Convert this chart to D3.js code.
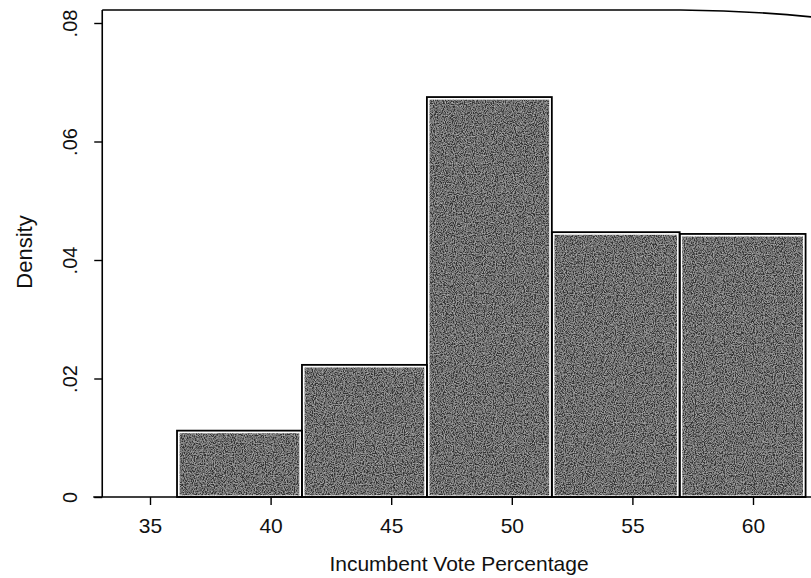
<!DOCTYPE html>
<html><head><meta charset="utf-8">
<script src="https://cdn.jsdelivr.net/npm/d3@7"></script>
<style>body{margin:0;background:#fff}svg{display:block}text{font-family:"Liberation Sans",Arial,sans-serif;fill:#111}</style>
</head><body><svg id="c" width="811" height="578"></svg>
<script>
const binStarts = [36.12, 41.30, 46.48, 51.66, 56.96];
const binEnds   = [41.30, 46.48, 51.66, 56.96, 62.18];
const densities = [0.0112, 0.0223, 0.0675, 0.0447, 0.0444];
const xTicks = [35, 40, 45, 50, 55, 60];
const yTicks = [0, 0.02, 0.04, 0.06, 0.08];
const yTickLabels = ["0", ".02", ".04", ".06", ".08"];

const svg = d3.select("#c");
const x = d3.scaleLinear().domain([35, 60]).range([150, 753]);
const y = d3.scaleLinear().domain([0, 0.08]).range([497, 23]);
const pLeft = x(33.02), pRight = 812, pTop = y(0.0822), pBottom = y(0);

const defs = svg.append("defs");
const f = defs.append("filter").attr("id","grain").attr("x",0).attr("y",0).attr("width",1).attr("height",1);
f.append("feTurbulence").attr("type","fractalNoise").attr("baseFrequency",0.9).attr("numOctaves",2).attr("seed",3).attr("result","n");
f.append("feColorMatrix").attr("in","n").attr("type","matrix")
 .attr("values","0 0 0 0 0.55  0 0 0 0 0.55  0 0 0 0 0.55  1.6 0 0 0 -0.55").attr("result","m");
f.append("feComposite").attr("in","m").attr("in2","SourceGraphic").attr("operator","in").attr("result","c");
f.append("feMerge").call(m=>{m.append("feMergeNode").attr("in","SourceGraphic");m.append("feMergeNode").attr("in","c");});

const bins = densities.map((d,i)=>({x0:binStarts[i], x1:binEnds[i], d}));
const g = svg.append("g");
g.selectAll("rect.fill").data(bins).join("rect").attr("class","fill")
 .attr("x",b=>x(b.x0)+2).attr("y",b=>y(b.d)+2)
 .attr("width",b=>x(b.x1)-x(b.x0)-4).attr("height",b=>y(0)-y(b.d)-2)
 .attr("fill","#333").attr("filter","url(#grain)");
g.selectAll("rect.inner").data(bins).join("rect").attr("class","inner")
 .attr("x",b=>x(b.x0)+2).attr("y",b=>y(b.d)+2)
 .attr("width",b=>x(b.x1)-x(b.x0)-4).attr("height",b=>y(0)-y(b.d)-3)
 .attr("fill","none").attr("stroke","#fff").attr("stroke-width",1.2);
g.selectAll("rect.outer").data(bins).join("rect").attr("class","outer")
 .attr("x",b=>x(b.x0)).attr("y",b=>y(b.d))
 .attr("width",b=>x(b.x1)-x(b.x0)).attr("height",b=>y(0)-y(b.d))
 .attr("fill","none").attr("stroke","#000").attr("stroke-width",1.8);

// frame: left axis line and top border
svg.append("line").attr("x1",pLeft).attr("x2",pLeft).attr("y1",pTop).attr("y2",pBottom).attr("stroke","#000").attr("stroke-width",1.6);
svg.append("path").attr("d",`M${pLeft},${pTop} L${x(57)},${pTop} Q${x(60)},${pTop+1} ${pRight},${pTop+7}`).attr("fill","none").attr("stroke","#000").attr("stroke-width",1.6);

// x axis
const xa = svg.append("g").attr("transform",`translate(0,${pBottom})`)
 .call(d3.axisBottom(x).tickValues(xTicks).tickSize(8).tickFormat(d3.format("d")));
xa.select(".domain").remove();
xa.append("line").attr("x1",pLeft-9).attr("x2",pRight).attr("stroke","#000").attr("stroke-width",1.6);
xa.selectAll(".tick line").attr("stroke","#000").attr("stroke-width",1.4);
xa.selectAll(".tick text").attr("font-size",21).attr("fill","#111").attr("y",36).attr("dy",0);

// y axis
const ya = svg.append("g").attr("transform",`translate(${pLeft},0)`)
 .call(d3.axisLeft(y).tickValues(yTicks).tickSize(8).tickFormat((d,i)=>yTickLabels[i]));
ya.select(".domain").remove();
ya.selectAll(".tick line").attr("stroke","#000").attr("stroke-width",1.4);
ya.selectAll(".tick text").attr("font-size",20).attr("fill","#111")
 .attr("transform",`translate(${77-pLeft},0) rotate(-90)`).attr("x",0).attr("dy",0).attr("text-anchor","middle");

svg.append("text").attr("x",459).attr("y",571).attr("text-anchor","middle").attr("font-size",21).text("Incumbent Vote Percentage");
svg.append("text").attr("transform",`translate(32,252) rotate(-90)`).attr("text-anchor","middle").attr("font-size",22).text("Density");
</script></body></html>
